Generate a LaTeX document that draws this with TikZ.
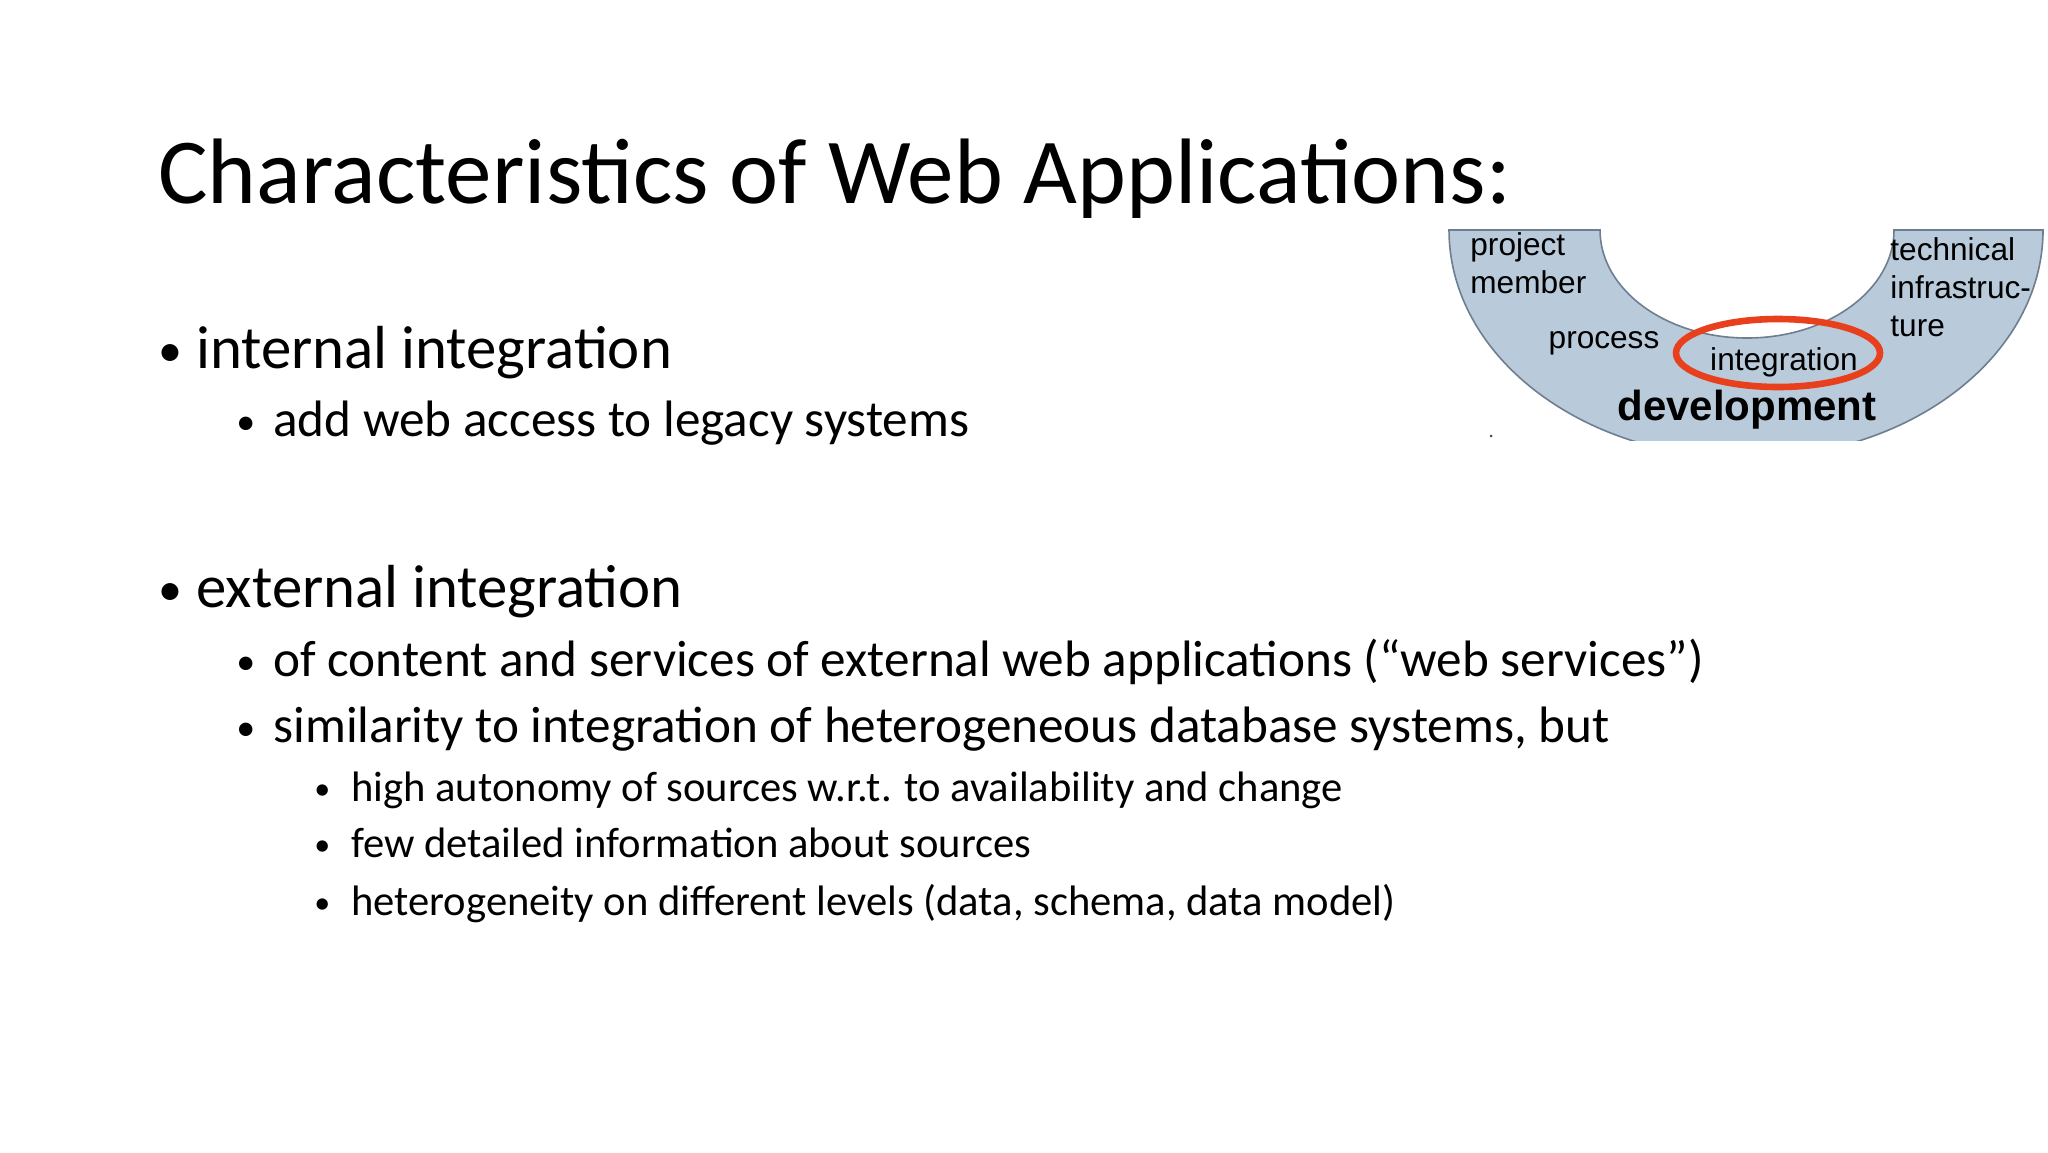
\documentclass[tikz,border=0pt]{standalone}
\usepackage{fontspec}
\setmainfont{Carlito}
\newfontfamily\arialf{Liberation Sans}
\definecolor{ringfill}{HTML}{B9CADB}
\definecolor{ringline}{HTML}{6D7E90}
\definecolor{ringred}{HTML}{E8401C}
\begin{document}
\begin{tikzpicture}[x=0.5pt,y=-0.5pt,
  lone/.style={anchor=base west,inner sep=0pt,font=\fontsize{30.4}{34}\selectfont},
  ltwo/.style={anchor=base west,inner sep=0pt,font=\fontsize{25.6}{30}\selectfont},
  lthree/.style={anchor=base west,inner sep=0pt,font=\fontsize{21.3}{25}\selectfont},
  bone/.style={anchor=base west,inner sep=0pt,font=\fontsize{24}{28}\selectfont},
  btwo/.style={anchor=base west,inner sep=0pt,font=\fontsize{19}{22}\selectfont},
  bthree/.style={anchor=base west,inner sep=0pt,font=\fontsize{16}{19}\selectfont},
  dlab/.style={inner sep=0pt,font=\arialf\fontsize{15.8}{18}\selectfont},
  dlabl/.style={dlab,anchor=base west}]
\useasboundingbox (0,0) rectangle (2048,1152);
% title
\node[anchor=base west,inner sep=0pt,font=\fontsize{46.5}{52}\selectfont] (title) at (158,203) {Characteristics of Web Applications:};
% bullets
\node[bone] (b1) at (158,366) {•}; \node[lone] (t1) at (196,368) {internal integration};
\node[btwo] (b11) at (236,434) {•}; \node[ltwo] (t11) at (273,436) {add web access to legacy systems};
\node[bone] (b2) at (158,605) {•}; \node[lone] (t2) at (196,607) {external integration};
\node[btwo] (b21) at (236,674) {•}; \node[ltwo] (t21) at (273,676) {of content and services of external web applications (“web services”)};
\node[btwo] (b22) at (236,740) {•}; \node[ltwo] (t22) at (273,742) {similarity to integration of heterogeneous database systems, but};
\node[bthree] (b31) at (314,799) {•}; \node[lthree] (t31) at (351,801) {high autonomy of sources w.r.t. to availability and change};
\node[bthree] (b32) at (314,855) {•}; \node[lthree] (t32) at (351,857) {few detailed information about sources};
\node[bthree] (b33) at (314,913) {•}; \node[lthree] (t33) at (351,915) {heterogeneity on different levels (data, schema, data model)};
% diagram
\begin{scope}
\clip (1440,228) rectangle (2045,440);
\filldraw[fill=ringfill,draw=ringline,line width=0.8pt]
  (1449,230) arc[start angle=180,end angle=0,x radius=297,y radius=228]
  -- (1894,230) arc[start angle=0,end angle=180,x radius=147,y radius=108] -- cycle;
\end{scope}
\fill[black!70] (1491,436) circle (1.5);
\node[dlabl] (pm1) at (1470,255) {project};
\node[dlabl] (pm2) at (1470,293) {member};
\node[dlab] (proc) at (1604,343) {process};
\node[dlab] (integ) at (1784,362) {integration};
\draw[ringred,line width=3.3pt] (1778,353) ellipse[x radius=102,y radius=34];
\node[dlab,font=\arialf\bfseries\fontsize{21}{24}\selectfont] (dev) at (1747,410) {development};
\node[dlabl] (ti1) at (1890,260) {technical};
\node[dlabl] (ti2) at (1890,298) {infrastruc-};
\node[dlabl] (ti3) at (1890,336) {ture};
\end{tikzpicture}
\end{document}
